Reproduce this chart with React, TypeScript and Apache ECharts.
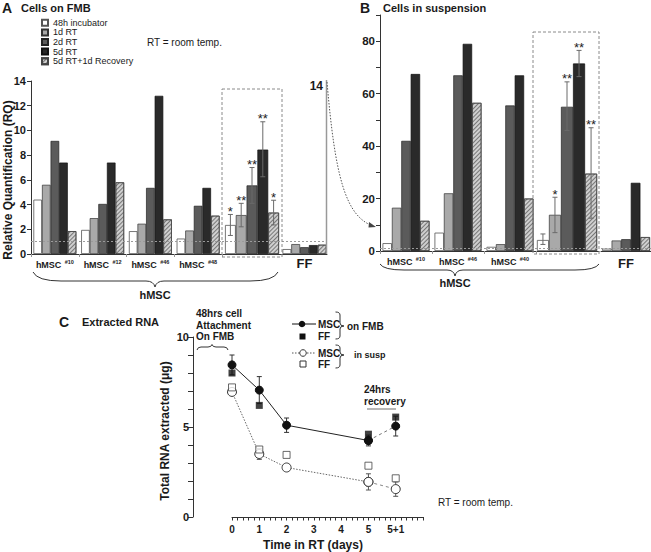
import React, { useEffect, useRef } from "react";
import * as echarts from "echarts";

const FONT = 'Arial, "Liberation Sans", Helvetica, sans-serif';

const seriesNames = ["48h incubator", "1d RT", "2d RT", "5d RT", "5d RT+1d Recovery"];

const groupsA = ["hMSC #10", "hMSC #12", "hMSC #46", "hMSC #48"];
const a48h = [4.4, 1.95, 1.85, 1.25];
const a1dRT = [5.6, 2.9, 2.45, 1.9];
const a2dRT = [9.15, 4.05, 5.35, 3.9];
const a5dRT = [7.4, 7.4, 12.8, 5.35];
const aRecovery = [1.85, 5.8, 2.8, 3.1];
const meanLabel = ["mean"];
const aMean = [2.35, 3.15, 5.55, 8.45, 3.35];
const aErrLow = [1.5, 2.2, 4.1, 6.25, 2.35];
const aErrHigh = [3.2, 4.1, 7.0, 10.7, 4.35];
const aStars = ["*", "**", "**", "**", "*"];
const ffLabel = ["FF"];
const aFF = [0.4, 0.8, 0.55, 0.72, 0.75];

const groupsB = ["hMSC #10", "hMSC #46", "hMSC #40"];
const b48h = [3, 7, 1.6];
const b1dRT = [16.5, 22, 2.6];
const b2dRT = [42, 67, 55.5];
const b5dRT = [67.5, 79, 67];
const bRecovery = [11.5, 56.5, 20];
const bMean = [4.2, 13.8, 55, 71.5, 29.5];
const bErrLow = [2.5, 7, 46, 66.5, 12.5];
const bErrHigh = [6.5, 20.5, 64.5, 76.5, 47];
const bStars = ["", "*", "**", "**", "**"];
const bFF = [0.9, 4, 4.5, 26, 5.3];

const days = [0, 1, 2, 5, 6];
const xTickLabelsC = ["0", "1", "2", "3", "4", "5", "5+1", ""];
const mscFMB = [8.45, 7.05, 5.1, 4.25, 5.05];
const mscFMBErr = [0.55, 0.75, 0.4, 0.3, 0.55];
const ffFMB = [8.0, 6.2, null, 4.6, 5.55];
const mscSusp = [6.95, 3.5, 2.75, 1.95, 1.55];
const mscSuspErr = [0.15, 0.3, 0.15, 0.45, 0.4];
const ffSusp = [7.2, 3.75, 3.45, 2.85, 2.15];

const barStyles = (): any[] => [
  { color: "#ffffff", borderColor: "#555", borderWidth: 0.8 },
  { color: "#a9a9a9", borderColor: "#333", borderWidth: 0.7 },
  { color: "#5b5b5b", borderColor: "#222", borderWidth: 0.7 },
  { color: "#2a2a2a", borderColor: "#111", borderWidth: 0.7 },
  {
    color: "#cfcfcf",
    borderColor: "#444",
    borderWidth: 0.7,
    decal: {
      symbol: "rect",
      symbolSize: 1,
      color: "rgba(60,60,60,0.6)",
      dashArrayX: [1, 0],
      dashArrayY: [1, 1.6],
      rotation: -Math.PI / 4,
    },
  },
];

const txt = (text: string, x: number, y: number, size: number, bold = true, align = "left", extra: any = {}) => ({
  type: "text",
  x,
  y,
  z: 50,
  silent: true,
  ...extra,
  style: {
    text,
    fontSize: size,
    fontWeight: bold ? "bold" : "normal",
    fontFamily: FONT,
    fill: "#1a1a1a",
    align,
    verticalAlign: "middle",
  },
});

function hBrace(x0: number, x1: number, xc: number, yEnd: number, yMid: number, yTip: number, rEnd: number, rTip: number, stroke = "#333") {
  const s = { stroke, lineWidth: 1, fill: "none" };
  const mk = (shape: any, type = "bezierCurve") => ({ type, shape, style: { ...s }, silent: true, z: 40 });
  return [
    mk({ x1: x0, y1: yEnd, x2: x0 + rEnd, y2: yMid, cpx1: x0 + rEnd * 0.15, cpy1: yMid }),
    mk({ x1: x0 + rEnd, y1: yMid, x2: xc - rTip, y2: yMid }, "line"),
    mk({ x1: xc - rTip, y1: yMid, x2: xc, y2: yTip, cpx1: xc - rTip * 0.15, cpy1: yMid }),
    mk({ x1: xc, y1: yTip, x2: xc + rTip, y2: yMid, cpx1: xc + rTip * 0.15, cpy1: yMid }),
    mk({ x1: xc + rTip, y1: yMid, x2: x1 - rEnd, y2: yMid }, "line"),
    mk({ x1: x1 - rEnd, y1: yMid, x2: x1, y2: yEnd, cpx1: x1 - rEnd * 0.15, cpy1: yMid }),
  ];
}

function vBrace(xEnd: number, xMid: number, xTip: number, y0: number, y1: number, yc: number, r: number) {
  const s = { stroke: "#333", lineWidth: 1, fill: "none" };
  const mk = (shape: any, type = "bezierCurve") => ({ type, shape, style: { ...s }, silent: true, z: 40 });
  return [
    mk({ x1: xEnd, y1: y0, x2: xMid, y2: y0 + r, cpx1: xMid, cpy1: y0 }),
    mk({ x1: xMid, y1: y0 + r, x2: xMid, y2: yc - r }, "line"),
    mk({ x1: xMid, y1: yc - r, x2: xTip, y2: yc, cpx1: xMid, cpy1: yc }),
    mk({ x1: xTip, y1: yc, x2: xMid, y2: yc + r, cpx1: xMid, cpy1: yc }),
    mk({ x1: xMid, y1: yc + r, x2: xMid, y2: y1 - r }, "line"),
    mk({ x1: xMid, y1: y1 - r, x2: xEnd, y2: y1, cpx1: xMid, cpy1: y1 }),
  ];
}

function barSeries(xi: number, values: number[][], gap: string, markY: number | null) {
  const st = barStyles();
  return seriesNames.map((name, i) => ({
    type: "bar",
    name,
    xAxisIndex: xi,
    yAxisIndex: xi,
    data: values[i],
    barGap: "0%",
    barCategoryGap: gap,
    itemStyle: st[i],
    emphasis: { disabled: true },
    markLine:
      i === 4 && markY !== null
        ? {
            silent: true,
            symbol: ["none", "none"],
            label: { show: false },
            lineStyle: { type: [2, 2], color: "#9a9a9a", width: 1 },
            data: [{ yAxis: markY }],
          }
        : undefined,
  }));
}

function groupErrSeries(xi: number, mean: number[], lo: number[], hi: number[], stars: string[], gapFrac: number) {
  return {
    type: "custom",
    xAxisIndex: xi,
    yAxisIndex: xi,
    z: 10,
    silent: true,
    itemStyle: { color: "#666" },
    data: mean.map((m, i) => [0, m, lo[i], hi[i], i]),
    renderItem: (params: any, api: any) => {
      const i = api.value(4);
      const pLo = api.coord([0, api.value(2)]);
      const pHi = api.coord([0, api.value(3)]);
      const band = api.size([1, 0])[0];
      const total = band * (1 - gapFrac);
      const bw = total / 5;
      const x = pLo[0] - total / 2 + (i + 0.5) * bw;
      const cap = 2.5;
      const st = { stroke: "#6a6a6a", lineWidth: 1, fill: "none" };
      const children: any[] = [
        { type: "line", shape: { x1: x, y1: pLo[1], x2: x, y2: pHi[1] }, style: st },
        { type: "line", shape: { x1: x - cap, y1: pHi[1], x2: x + cap, y2: pHi[1] }, style: st },
        { type: "line", shape: { x1: x - cap, y1: pLo[1], x2: x + cap, y2: pLo[1] }, style: st },
      ];
      const s = stars[params.dataIndex];
      if (s)
        children.push({
          type: "text",
          x,
          y: pHi[1] - 3,
          style: { text: s, fontSize: 13, fill: "#222", align: "center", verticalAlign: "middle", fontFamily: FONT },
        });
      return { type: "group", children };
    },
  };
}

function pointErrSeries(vals: number[], errs: number[], color: string) {
  return {
    type: "custom",
    xAxisIndex: 6,
    yAxisIndex: 6,
    z: 1,
    silent: true,
    itemStyle: { color },
    data: days.map((d, i) => [d, vals[i], vals[i] - errs[i], vals[i] + errs[i]]),
    renderItem: (params: any, api: any) => {
      const lo = api.coord([api.value(0), api.value(2)]);
      const hi = api.coord([api.value(0), api.value(3)]);
      const cap = 2.5;
      const st = { stroke: color, lineWidth: 1, fill: "none" };
      return {
        type: "group",
        children: [
          { type: "line", shape: { x1: lo[0], y1: lo[1], x2: hi[0], y2: hi[1] }, style: st },
          { type: "line", shape: { x1: lo[0] - cap, y1: lo[1], x2: lo[0] + cap, y2: lo[1] }, style: st },
          { type: "line", shape: { x1: hi[0] - cap, y1: hi[1], x2: hi[0] + cap, y2: hi[1] }, style: st },
        ],
      };
    },
  };
}

const pairs = (vals: (number | null)[], from: number, to: number) =>
  days.slice(from, to + 1).map((d, k) => [d, vals[from + k]]).filter((p) => p[1] !== null);

const mkAxisLine = () => ({ show: true, onZero: false, lineStyle: { color: "#333", width: 1, type: "solid" } });
const mkTick = (length: number, color = "#333") => ({ show: true, length, lineStyle: { color, width: 1, type: "solid" } });

const groupLabel = () => ({
  show: true,
  interval: 0,
  margin: 5,
  formatter: (v: string) => {
    const [a, b] = v.split(" ");
    return `{m|${a}} {s|${b}}`;
  },
  rich: {
    m: { fontSize: 9, fontWeight: "bold", fontFamily: FONT, color: "#1a1a1a" },
    s: { fontSize: 5.5, fontWeight: "bold", fontFamily: FONT, color: "#1a1a1a", verticalAlign: "top" },
  },
});

function catAxis(grid: number, data: string[], opts: any = {}) {
  return {
    type: "category",
    gridIndex: grid,
    data,
    axisLine: mkAxisLine(),
    axisTick: { show: false },
    axisLabel: { show: false },
    ...opts,
  };
}

function valAxis(grid: number, max: number, interval: number, show: boolean, opts: any = {}) {
  return {
    type: "value",
    gridIndex: grid,
    min: 0,
    max,
    interval,
    show,
    splitLine: { show: false },
    axisLine: mkAxisLine(),
    axisTick: mkTick(4),
    ...opts,
  };
}

export default function App() {
  const ref = useRef<HTMLDivElement>(null);
  useEffect(() => {
    document.body.style.margin = "0";
    const chart = echarts.init(ref.current!, null, { renderer: "svg" });
    const yLabelBold = (size: number, fmt?: (v: number) => string) => ({
      show: true,
      fontSize: size,
      fontWeight: "bold",
      fontFamily: FONT,
      color: "#1a1a1a",
      margin: 5,
      formatter: fmt,
    });

    const option: any = {
      animation: false,
      backgroundColor: "#ffffff",
      color: ["#333"],
      legend: {
        data: seriesNames,
        orient: "vertical",
        left: 41,
        top: 18,
        padding: 0,
        itemWidth: 6,
        itemHeight: 6,
        itemGap: 0,
        icon: "rect",
        selectedMode: false,
        textStyle: { fontSize: 9, lineHeight: 9.6, fontFamily: FONT, color: "#1a1a1a" },
      },
      grid: [
        { left: 31, top: 81, width: 191, height: 173 },
        { left: 222, top: 81, width: 60, height: 173 },
        { left: 282, top: 81, width: 45, height: 173 },
        { left: 380, top: 15, width: 156, height: 236 },
        { left: 535, top: 15, width: 64, height: 236 },
        { left: 601, top: 15, width: 50, height: 236 },
        { left: 232, top: 337, width: 191, height: 180 },
      ],
      xAxis: [
        catAxis(0, groupsA, { axisLabel: groupLabel(), axisTick: mkTick(3, "#999") }),
        catAxis(1, meanLabel),
        catAxis(2, ffLabel, {
          axisLabel: { show: true, margin: 3, fontSize: 13, fontWeight: "bold", fontFamily: FONT, color: "#1a1a1a" },
        }),
        catAxis(3, groupsB, { axisLabel: groupLabel(), axisTick: mkTick(3, "#999") }),
        catAxis(4, meanLabel),
        catAxis(5, ffLabel, {
          axisLabel: { show: true, margin: 6, fontSize: 13, fontWeight: "bold", fontFamily: FONT, color: "#1a1a1a" },
        }),
        {
          type: "value",
          gridIndex: 6,
          min: 0,
          max: 7,
          interval: 1,
          splitLine: { show: false },
          axisLine: mkAxisLine(),
          axisTick: mkTick(3.5),
          minorTick: { show: true, splitNumber: 5, length: 3.5, lineStyle: { color: "#333", width: 1 } },
          axisLabel: {
            show: true,
            fontSize: 10,
            fontWeight: "bold",
            fontFamily: FONT,
            color: "#1a1a1a",
            margin: 7,
            formatter: (v: number) => xTickLabelsC[Math.round(v)] ?? "",
          },
        },
      ],
      yAxis: [
        valAxis(0, 14, 2, true, { axisLabel: yLabelBold(11) }),
        valAxis(1, 14, 2, false),
        valAxis(2, 14, 2, false),
        valAxis(3, 90, 10, true, {
          axisLabel: yLabelBold(11.5, (v: number) => (v % 20 === 0 ? String(v) : "")),
        }),
        valAxis(4, 90, 10, false),
        valAxis(5, 90, 10, false),
        valAxis(6, 10, 1, true, {
          offset: 39,
          axisTick: mkTick(5),
          axisLabel: { ...yLabelBold(11, (v: number) => (v % 5 === 0 ? String(v) : "")), margin: 4 },
        }),
      ],
      series: [
        ...barSeries(0, [a48h, a1dRT, a2dRT, a5dRT, aRecovery], "10%", 1),
        ...barSeries(1, aMean.map((v) => [v]), "10%", 1),
        ...barSeries(2, aFF.map((v) => [v]), "2%", 1),
        groupErrSeries(1, aMean, aErrLow, aErrHigh, aStars, 0.1),
        ...barSeries(3, [b48h, b1dRT, b2dRT, b5dRT, bRecovery], "9.6%", 1),
        ...barSeries(4, bMean.map((v) => [v]), "6%", 1),
        ...barSeries(5, bFF.map((v) => [v]), "4%", 1),
        groupErrSeries(4, bMean, bErrLow, bErrHigh, bStars, 0.06),
        pointErrSeries(mscFMB, mscFMBErr, "#333"),
        pointErrSeries(mscSusp, mscSuspErr, "#555"),
        {
          type: "line",
          name: "MSC on FMB",
          xAxisIndex: 6,
          yAxisIndex: 6,
          data: pairs(mscFMB, 0, 3),
          symbol: "circle",
          symbolSize: 8,
          itemStyle: { color: "#111", borderColor: "#111" },
          lineStyle: { color: "#222", width: 1 },
          z: 3,
        },
        {
          type: "line",
          name: "MSC on FMB recovery",
          xAxisIndex: 6,
          yAxisIndex: 6,
          data: pairs(mscFMB, 3, 4),
          symbol: "circle",
          symbolSize: 8,
          itemStyle: { color: "#111", borderColor: "#111" },
          lineStyle: { color: "#777", width: 1, type: [3, 3] },
          z: 3,
        },
        {
          type: "scatter",
          name: "FF on FMB",
          xAxisIndex: 6,
          yAxisIndex: 6,
          data: pairs(ffFMB, 0, 4),
          symbol: "rect",
          symbolSize: 7,
          itemStyle: { color: "#111" },
          z: 4,
        },
        {
          type: "line",
          name: "MSC in susp",
          xAxisIndex: 6,
          yAxisIndex: 6,
          data: pairs(mscSusp, 0, 3),
          symbol: "circle",
          symbolSize: 9,
          itemStyle: { color: "#fff", borderColor: "#333", borderWidth: 1 },
          lineStyle: { color: "#666", width: 1, type: [1.5, 1.5] },
          z: 3,
        },
        {
          type: "line",
          name: "MSC in susp recovery",
          xAxisIndex: 6,
          yAxisIndex: 6,
          data: pairs(mscSusp, 3, 4),
          symbol: "circle",
          symbolSize: 9,
          itemStyle: { color: "#fff", borderColor: "#333", borderWidth: 1 },
          lineStyle: { color: "#888", width: 1, type: [3, 3] },
          z: 3,
        },
        {
          type: "scatter",
          name: "FF in susp",
          xAxisIndex: 6,
          yAxisIndex: 6,
          data: pairs(ffSusp, 0, 4),
          symbol: "rect",
          symbolSize: 7,
          itemStyle: { color: "#fff", borderColor: "#444", borderWidth: 1 },
          z: 4,
        },
      ],
      graphic: [
        txt("A", 2, 8, 14),
        txt("Cells on FMB", 21, 8, 11),
        txt("B", 360, 8, 14),
        txt("Cells in suspension", 383, 8, 11),
        txt("RT = room temp.", 147, 42, 10, false),
        txt("Relative Quantification (RQ)", 8, 180, 12, true, "center", { rotation: Math.PI / 2 }),
        txt("14", 323, 86, 12, true, "right"),
        txt("hMSC", 155, 295, 11, true, "center"),
        txt("hMSC", 455, 283, 11, true, "center"),
        ...hBrace(33, 278, 155, 272, 281, 287, 28, 9),
        ...hBrace(380, 599, 455, 264, 270, 276, 24, 8),
        { type: "rect", shape: { x: 222, y: 89, width: 60, height: 168 }, style: { fill: "none", stroke: "#8a8a8a", lineWidth: 1, lineDash: [3, 2] }, z: 30, silent: true },
        { type: "rect", shape: { x: 533, y: 32, width: 66, height: 222 }, style: { fill: "none", stroke: "#8a8a8a", lineWidth: 1, lineDash: [3, 2] }, z: 30, silent: true },
        { type: "line", shape: { x1: 326.5, y1: 80, x2: 326.5, y2: 254 }, style: { stroke: "#999", lineWidth: 1.5 }, z: 30, silent: true },
        { type: "bezierCurve", shape: { x1: 327, y1: 82, x2: 373, y2: 226, cpx1: 335, cpy1: 175, cpx2: 345, cpy2: 216 }, style: { stroke: "#555", lineWidth: 1, lineDash: [1.5, 1.5], fill: "none" }, z: 30, silent: true },
        { type: "polygon", shape: { points: [[376, 227], [369, 222], [368.5, 227.5]] }, style: { fill: "#444" }, z: 30, silent: true },
        txt("C", 59, 322, 14),
        txt("Extracted RNA", 82, 322, 11),
        txt("48hrs cell", 196, 313, 10),
        txt("Attachment", 196, 325, 10),
        txt("On FMB", 196, 336, 10),
        ...hBrace(197, 228, 212, 350, 347, 344.5, 4, 4),
        txt("Total RNA extracted (μg)", 165, 431, 12, true, "center", { rotation: Math.PI / 2 }),
        txt("Time in RT (days)", 313, 545, 12, true, "center"),
        txt("24hrs", 364, 389, 10),
        txt("recovery", 364, 401, 10),
        { type: "line", shape: { x1: 367, y1: 409, x2: 396, y2: 409 }, style: { stroke: "#888", lineWidth: 1.2 }, z: 30, silent: true },
        txt("RT = room temp.", 438, 502, 10, false),
        { type: "line", shape: { x1: 292, y1: 324, x2: 316, y2: 324 }, style: { stroke: "#111", lineWidth: 1 }, z: 40, silent: true },
        { type: "circle", shape: { cx: 302, cy: 324, r: 3.3 }, style: { fill: "#111" }, z: 41, silent: true },
        txt("MSC", 318, 324, 10),
        { type: "rect", shape: { x: 299.5, y: 333.5, width: 6, height: 6 }, style: { fill: "#111" }, z: 41, silent: true },
        txt("FF", 318, 336.5, 10),
        ...vBrace(335.5, 340, 344, 312, 339, 326, 3),
        txt("on FMB", 347, 326, 10),
        { type: "line", shape: { x1: 292, y1: 353, x2: 316, y2: 353 }, style: { stroke: "#555", lineWidth: 1, lineDash: [1.5, 1.5] }, z: 40, silent: true },
        { type: "circle", shape: { cx: 303, cy: 353, r: 3.3 }, style: { fill: "#fff", stroke: "#333", lineWidth: 1 }, z: 41, silent: true },
        txt("MSC", 318, 353, 10),
        { type: "rect", shape: { x: 300, y: 361, width: 6, height: 6 }, style: { fill: "#fff", stroke: "#333", lineWidth: 1 }, z: 41, silent: true },
        txt("FF", 318, 364, 10),
        ...vBrace(335.5, 340, 344, 345, 368, 355, 3),
        txt("in susp", 354, 355, 9),
      ],
    };
    chart.setOption(option);
    return () => chart.dispose();
  }, []);
  return <div ref={ref} style={{ width: 651, height: 552 }} />;
}
